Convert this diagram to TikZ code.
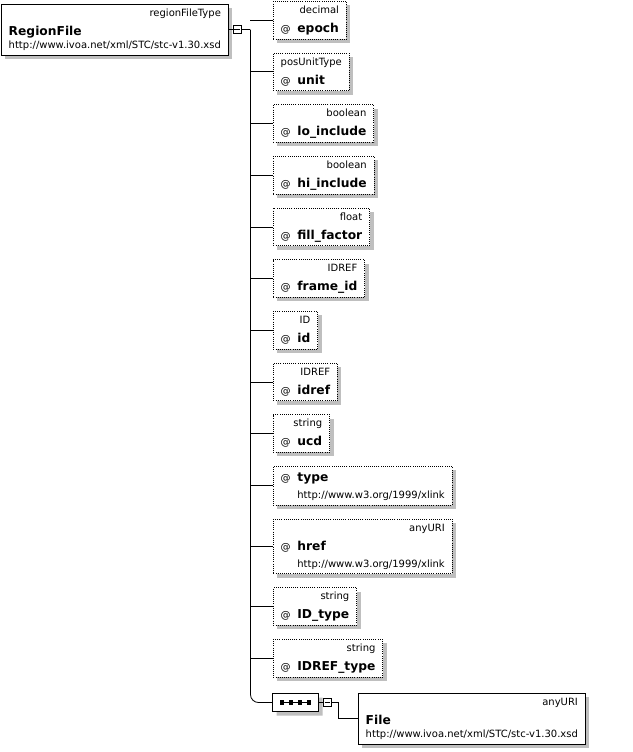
\documentclass[tikz,border=0pt]{standalone}
\usepackage{fontspec}
\setmainfont{DejaVu Sans}
\usetikzlibrary{positioning, shapes.misc, shadows}

\renewcommand{\arraystretch}{0}
\newcommand{\tfont}{\fontsize{7.5}{9}\selectfont}
\newcommand{\nfont}{\fontsize{9.2}{11}\selectfont\bfseries}
\newcommand{\atmark}{{\tfont @}\hspace{5pt}}
% type label, @ name
\newcommand{\attrbox}[2]{\begin{tabular}{@{}l@{}}
  \rule{0pt}{9pt}\hfill\smash{\tfont #1}\\
  \rule[-5pt]{0pt}{19.25pt}\smash{\atmark{\nfont #2}}
\end{tabular}}
% type label, @ name, namespace
\newcommand{\attrnsbox}[3]{\begin{tabular}{@{}l@{}}
  \rule{0pt}{9pt}\hfill\smash{\tfont #1}\\
  \rule{0pt}{14.25pt}\smash{\atmark{\nfont #2}}\\
  \rule[-5pt]{0pt}{17.75pt}\smash{\phantom{\atmark}\tfont #3}
\end{tabular}}
% type label, name, namespace (elements)
\newcommand{\elembox}[3]{\begin{tabular}{@{}l@{}}
  \rule{0pt}{9pt}\hfill\smash{\tfont #1}\\
  \rule{0pt}{14.25pt}\smash{\nfont #2}\\
  \rule[-5pt]{0pt}{14.75pt}\smash{\tfont #3}
\end{tabular}}

\begin{document}
\begin{tikzpicture}[x=0.75pt, y=-0.75pt, line width=0.6pt,
    shade/.style={drop shadow={shadow xshift=3pt, shadow yshift=-3pt, fill=black!25, opacity=1}},
    elem/.style={draw, fill=white, shade, inner xsep=5.5pt, inner ysep=0pt},
    attr/.style={elem, densely dotted},
    minusbox/.style={draw, fill=white, minimum size=6pt, inner sep=0pt}]

    \useasboundingbox (0,0) rectangle (632,752);

    \node[elem, anchor=north west] (root) at (1,4)
        {\elembox{regionFileType}{RegionFile}{http://www.ivoa.net/xml/STC/stc-v1.30.xsd}};
    \node[minusbox, right=3pt of root] (rootminus) {};

    \node[attr, anchor=north west] (epoch) at (273,1) {\attrbox{decimal}{epoch}};
    \node[attr, below right=9.9pt and 0pt of epoch.south west] (unit) {\attrbox{posUnitType}{unit}};
    \node[attr, below right=9.9pt and 0pt of unit.south west] (lo) {\attrbox{boolean}{lo\_include}};
    \node[attr, below right=9.9pt and 0pt of lo.south west] (hi) {\attrbox{boolean}{hi\_include}};
    \node[attr, below right=9.9pt and 0pt of hi.south west] (fill) {\attrbox{float}{fill\_factor}};
    \node[attr, below right=9.9pt and 0pt of fill.south west] (frame) {\attrbox{IDREF}{frame\_id}};
    \node[attr, below right=9.9pt and 0pt of frame.south west] (id) {\attrbox{ID}{id}};
    \node[attr, below right=9.9pt and 0pt of id.south west] (idref) {\attrbox{IDREF}{idref}};
    \node[attr, below right=9.9pt and 0pt of idref.south west] (ucd) {\attrbox{string}{ucd}};
    \node[attr, below right=9.9pt and 0pt of ucd.south west] (type)
        {\begin{tabular}{@{}l@{}}
            \rule{0pt}{11.25pt}\smash{\atmark{\nfont type}}\\
            \rule[-5pt]{0pt}{17.75pt}\smash{\phantom{\atmark}\tfont http://www.w3.org/1999/xlink}
         \end{tabular}};
    \node[attr, below right=9.9pt and 0pt of type.south west] (href)
        {\attrnsbox{anyURI}{href}{http://www.w3.org/1999/xlink}};
    \node[attr, below right=9.9pt and 0pt of href.south west] (idtype) {\attrbox{string}{ID\_type}};
    \node[attr, below right=9.9pt and 0pt of idtype.south west] (idreftype) {\attrbox{string}{IDREF\_type}};

    \coordinate (trunk) at ([xshift=-16.9pt]rootminus.east -| epoch.west);

    % sequence compositor
    \node[draw, fill=white, shade, chamfered rectangle, chamfered rectangle xsep=4pt,
        chamfered rectangle ysep=3pt, minimum width=34.5pt, minimum height=13.5pt,
        inner sep=0pt] (seq) at (295.5,702.5) {};
    \draw[line width=1.2pt] ([xshift=-11.5pt]seq.center) -- ([xshift=11.5pt]seq.center);
    \foreach \dx in {-10, -3.4, 3.4, 10}
        \fill ([xshift=\dx pt]seq.center) ++(-1.6pt,-1.6pt) rectangle ++(3.2pt,3.2pt);
    \node[minusbox, right=3pt of seq] (seqminus) {};

    \node[elem, anchor=north west] (file) at (358,693)
        {\elembox{anyURI}{File}{http://www.ivoa.net/xml/STC/stc-v1.30.xsd}};

    % minus signs
    \foreach \m in {rootminus, seqminus}
        \draw ([xshift=1.3pt]\m.west) -- ([xshift=-1.3pt]\m.east);

    \draw (root.east) -- (rootminus.west);
    \draw (rootminus.east) -- (trunk);
    \draw[rounded corners=6pt] (trunk) |- (seq.west);
    \foreach \a in {epoch, unit, lo, hi, fill, frame, id, idref, ucd, type, href, idtype, idreftype}
        \draw (trunk |- \a.west) -- (\a.west);
    \draw (seq.east) -- (seqminus.west);
    \draw (seqminus.east) -- ++(7,0) |- (file.west);

\end{tikzpicture}
\end{document}
